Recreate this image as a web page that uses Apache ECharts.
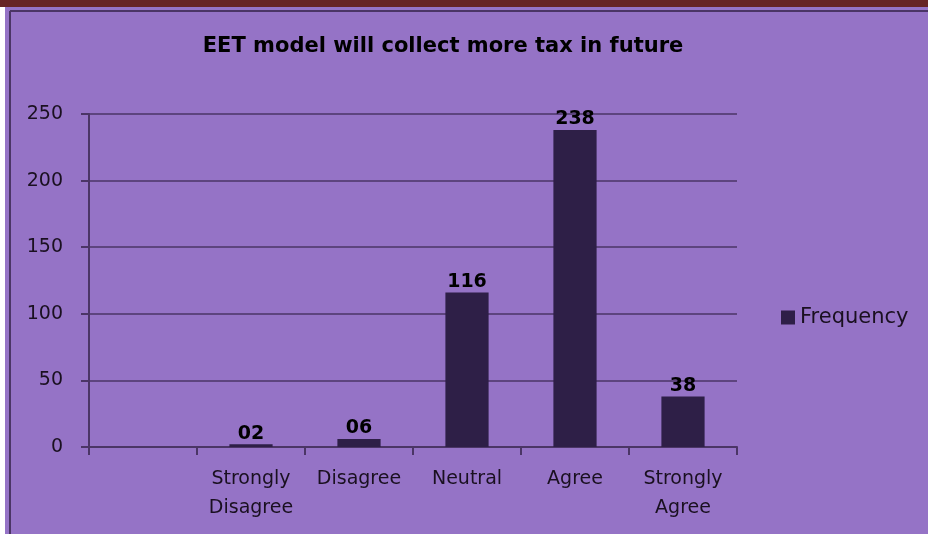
<!DOCTYPE html>
<html><head><meta charset="utf-8">
<script src="https://cdn.jsdelivr.net/npm/echarts@6/dist/echarts.min.js"></script>
<style>html,body{margin:0;padding:0;background:#fff}#c{width:928px;height:534px}</style>
</head><body><div id="c"></div>
<script>
const chartTitle = "EET model will collect more tax in future";
const categories = ["", "Strongly\nDisagree", "Disagree", "Neutral", "Agree", "Strongly\nAgree"];
const frequency = [null, 2, 6, 116, 238, 38];
const seriesName = "Frequency";
const yTicks = [0, 50, 100, 150, 200, 250];

const chart = echarts.init(document.getElementById('c'), null, {renderer: 'canvas'});
const font = "'DejaVu Sans', sans-serif";
chart.setOption({
  animation: false,
  backgroundColor: '#ffffff',
  graphic: [
    {type: 'rect', shape: {x: 5, y: 0, width: 923, height: 534}, style: {fill: '#9573c6'}, z: -10},
    {type: 'line', shape: {x1: 10, y1: 11, x2: 10, y2: 534}, style: {stroke: '#4b3566', lineWidth: 2}, z: -9},
    {type: 'line', shape: {x1: 10, y1: 11, x2: 928, y2: 11}, style: {stroke: '#4b3566', lineWidth: 2}, z: -9},
    {type: 'rect', shape: {x: 0, y: 0, width: 928, height: 7}, style: {fill: '#662424'}, z: -8}
  ],
  title: {
    text: chartTitle, left: 438, textAlign: 'center', top: 31,
    textStyle: {fontFamily: font, fontWeight: 'bold', fontSize: 21, color: '#000'}
  },
  legend: {
    data: [seriesName], left: 776, top: 302, icon: 'rect', itemWidth: 14, itemHeight: 14, itemGap: 5,
    textStyle: {fontFamily: font, fontSize: 21, color: '#1a1020'}
  },
  grid: {left: 89, right: 191, top: 114, bottom: 87},
  xAxis: {
    type: 'category', data: categories,
    axisLine: {lineStyle: {color: '#4b3566', width: 2}},
    axisTick: {show: true, length: 8, lineStyle: {color: '#4b3566', width: 2}, alignWithLabel: false},
    axisLabel: {fontFamily: font, fontSize: 19, color: '#1a1020', margin: 18, lineHeight: 29, interval: 0}
  },
  yAxis: {
    type: 'value', min: 0, max: 250, interval: 50,
    axisLine: {show: true, lineStyle: {color: '#4b3566', width: 2}},
    axisTick: {show: true, length: 8, lineStyle: {color: '#4b3566', width: 2}},
    splitLine: {lineStyle: {color: '#4b3566', width: 1.5}},
    axisLabel: {fontFamily: font, fontSize: 19, color: '#1a1020', margin: 26,
      formatter: v => yTicks.includes(v) ? String(v) : ''}
  },
  series: [{
    name: seriesName, type: 'bar', data: frequency, barWidth: '40%',
    itemStyle: {color: '#2e1f47'},
    label: {show: true, position: 'top', distance: 1, fontFamily: font, fontWeight: 'bold', fontSize: 19, color: '#000',
      formatter: p => String(p.value).padStart(2, '0')}
  }]
});
</script></body></html>
